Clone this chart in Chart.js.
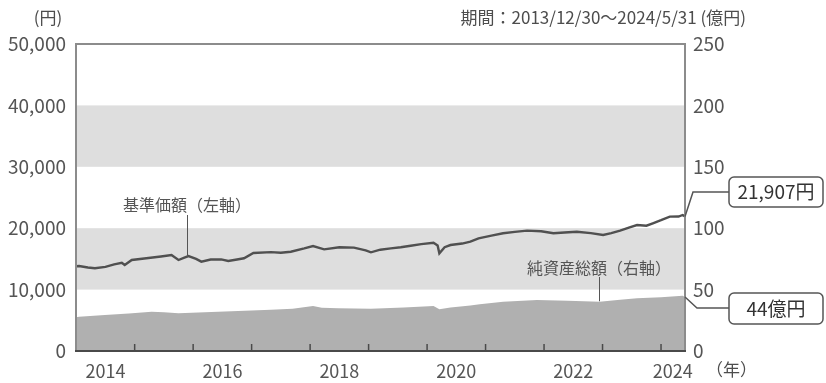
<!DOCTYPE html>
<html lang="ja">
<head>
<meta charset="utf-8">
<script src="https://cdn.jsdelivr.net/npm/chart.js@4.4.1/dist/chart.umd.min.js"></script>
<style>
  html, body { margin: 0; padding: 0; background: #fff; }
  #wrap { width: 826px; height: 383px; position: relative; }
</style>
</head>
<body>
<div id="wrap"><canvas id="fundChart"></canvas></div>
<script>
/* ==========================================
   基準価額 / 純資産総額 chart
========================================== */

const FONT = "'Noto Sans CJK JP', 'Noto Sans', sans-serif";

// 基準価額 (左軸, 円) — decimal year / value
const navYears = [
  2013.997, 2014.05, 2014.2, 2014.32, 2014.5, 2014.65, 2014.78, 2014.83, 2014.95, 2015.2,
  2015.45, 2015.63, 2015.75, 2015.85, 2015.92, 2016.05, 2016.14, 2016.3, 2016.48, 2016.6,
  2016.75, 2016.87, 2017.03, 2017.33, 2017.5, 2017.67, 2017.9, 2018.05, 2018.24, 2018.5,
  2018.75, 2018.95, 2019.04, 2019.2, 2019.38, 2019.55, 2019.72, 2019.9, 2020.11, 2020.18,
  2020.21, 2020.3, 2020.4, 2020.6, 2020.74, 2020.88, 2021.1, 2021.3, 2021.5, 2021.71,
  2021.95, 2022.16, 2022.35, 2022.56, 2022.8, 2023.01, 2023.15, 2023.3, 2023.45, 2023.59,
  2023.75, 2023.86, 2024.0, 2024.15, 2024.3, 2024.37, 2024.41
];
const navValues = [
  13800, 13840, 13600, 13470, 13700, 14100, 14380, 14000, 14820, 15100,
  15400, 15630, 14820, 15200, 15470, 15000, 14550, 14900, 14930, 14660,
  14900, 15100, 15960, 16100, 16000, 16170, 16700, 17100, 16560, 16900,
  16830, 16400, 16070, 16500, 16720, 16900, 17150, 17400, 17640, 17200,
  15910, 16900, 17260, 17500, 17800, 18350, 18800, 19170, 19400, 19600,
  19500, 19170, 19300, 19430, 19200, 18890, 19200, 19600, 20100, 20520,
  20400, 20800, 21300, 21880, 21900, 22150, 21907
];

// 純資産総額 (右軸, 億円)
const assetYears = [
  2013.997, 2014.05, 2014.49, 2014.9, 2015.29, 2015.5, 2015.75, 2016.2, 2016.77, 2017.33,
  2017.7, 2018.05, 2018.2, 2018.48, 2019.04, 2019.6, 2020.11, 2020.21, 2020.4, 2020.74,
  2020.9, 2021.3, 2021.88, 2022.4, 2022.95, 2023.3, 2023.59, 2024.0, 2024.37, 2024.41
];
const assetValues = [
  27.5, 27.9, 29.3, 30.5, 32.0, 31.5, 30.7, 31.5, 32.6, 33.6,
  34.5, 36.6, 35.3, 34.8, 34.5, 35.5, 36.6, 34.0, 35.5, 37.0,
  38.0, 40.2, 41.5, 41.0, 40.2, 41.8, 42.9, 43.8, 45.0, 44.0
];

const yearLabels = [2014, 2016, 2018, 2020, 2022, 2024];
const yearTicks = [2015, 2016, 2017, 2018, 2019, 2020, 2021, 2022, 2023, 2024];
const bandRanges = [[10000, 20000], [30000, 40000]];
const navEndLabel = "21,907円";
const assetEndLabel = "44億円";

const toPoints = (xs, ys) => xs.map((x, i) => ({ x, y: ys[i] }));

function roundRect(ctx, x, y, w, h, r) {
  ctx.beginPath();
  ctx.moveTo(x + r, y);
  ctx.arcTo(x + w, y, x + w, y + h, r);
  ctx.arcTo(x + w, y + h, x, y + h, r);
  ctx.arcTo(x, y + h, x, y, r);
  ctx.arcTo(x, y, x + w, y, r);
  ctx.closePath();
}

const decorPlugin = {
  id: "decor",
  beforeDatasetsDraw(chart) {
    const { ctx, chartArea: a, scales } = chart;
    ctx.save();
    ctx.fillStyle = "#dedede";
    bandRanges.forEach(([lo, hi]) => {
      const y1 = scales.y.getPixelForValue(hi);
      const y2 = scales.y.getPixelForValue(lo);
      ctx.fillRect(a.left, y1, a.right - a.left, y2 - y1);
    });
    ctx.restore();
  },
  afterDraw(chart) {
    const { ctx, chartArea: a, scales } = chart;
    ctx.save();

    // frame
    ctx.strokeStyle = "#8c8c8c";
    ctx.lineWidth = 2;
    ctx.beginPath();
    ctx.moveTo(a.left, a.bottom);
    ctx.lineTo(a.left, a.top);
    ctx.lineTo(a.right, a.top);
    ctx.lineTo(a.right, a.bottom);
    ctx.stroke();
    ctx.strokeStyle = "#4a4a4a";
    ctx.beginPath();
    ctx.moveTo(a.left - 1, a.bottom);
    ctx.lineTo(a.right + 1, a.bottom);
    ctx.stroke();

    // inward year ticks
    ctx.lineWidth = 1.5;
    yearTicks.forEach((yr) => {
      const x = scales.x.getPixelForValue(yr);
      ctx.beginPath();
      ctx.moveTo(x, a.bottom);
      ctx.lineTo(x, a.bottom - 7);
      ctx.stroke();
    });

    // header texts
    ctx.fillStyle = "#4d4d4d";
    ctx.textBaseline = "middle";
    ctx.font = `17px ${FONT}`;
    ctx.textAlign = "center";
    ctx.fillText("(円)", 48, 18);
    ctx.textAlign = "right";
    ctx.fillText("期間：2013/12/30～2024/5/31 (億円)", 746, 18);
    ctx.textAlign = "left";
    ctx.fillText("（年）", 706, 370);

    // series labels with pointers
    ctx.font = `16px ${FONT}`;
    ctx.textAlign = "center";
    ctx.fillStyle = "#555";
    ctx.fillText("基準価額（左軸）", 187, 205);
    ctx.fillText("純資産総額（右軸）", 599, 268);
    ctx.strokeStyle = "#555";
    ctx.lineWidth = 1;
    ctx.beginPath();
    ctx.moveTo(187.5, 215);
    ctx.lineTo(187.5, scales.y.getPixelForValue(15300));
    ctx.moveTo(599.5, 277);
    ctx.lineTo(599.5, scales.y2.getPixelForValue(40.5));
    ctx.stroke();

    // end value call-outs
    const navX = scales.x.getPixelForValue(navYears[navYears.length - 1]);
    const navY = scales.y.getPixelForValue(navValues[navValues.length - 1]);
    const astX = scales.x.getPixelForValue(assetYears[assetYears.length - 1]);
    const astY = scales.y2.getPixelForValue(assetValues[assetValues.length - 1]);
    ctx.strokeStyle = "#555";
    ctx.lineWidth = 1.5;
    ctx.beginPath();
    ctx.moveTo(navX, navY);
    ctx.lineTo(navX + 8, 192);
    ctx.lineTo(729, 192);
    ctx.moveTo(astX, astY);
    ctx.lineTo(astX + 12, 308);
    ctx.lineTo(729, 308);
    ctx.stroke();

    ctx.fillStyle = "#fff";
    roundRect(ctx, 729, 177, 94, 30, 5);
    ctx.fill();
    ctx.stroke();
    roundRect(ctx, 729, 293, 94, 31, 5);
    ctx.fill();
    ctx.stroke();

    ctx.fillStyle = "#333";
    ctx.font = `19px ${FONT}`;
    ctx.textAlign = "center";
    ctx.fillText(navEndLabel, 776, 192);
    ctx.fillText(assetEndLabel, 776, 309);

    ctx.restore();
  },
};

new Chart(document.getElementById("fundChart"), {
  type: "line",
  data: {
    datasets: [
      {
        label: "基準価額",
        data: toPoints(navYears, navValues),
        yAxisID: "y",
        borderColor: "#505050",
        borderWidth: 2.4,
        pointRadius: 0,
        tension: 0,
        fill: false,
        order: 1,
      },
      {
        label: "純資産総額",
        data: toPoints(assetYears, assetValues),
        yAxisID: "y2",
        borderWidth: 0,
        borderColor: "rgba(0,0,0,0)",
        backgroundColor: "#b0b0b0",
        pointRadius: 0,
        tension: 0,
        fill: "origin",
        order: 2,
      },
    ],
  },
  options: {
    responsive: true,
    maintainAspectRatio: false,
    animation: false,
    layout: { padding: { top: 44, left: 0, right: 0, bottom: 0 } },
    plugins: { legend: { display: false }, tooltip: { enabled: false } },
    scales: {
      x: {
        type: "linear",
        min: 2013.997,
        max: 2024.41,
        grid: { display: false, drawTicks: false },
        border: { display: false },
        afterBuildTicks: (s) => {
          s.ticks = yearLabels.map((yr) => ({ value: Math.min(yr + 0.5, s.max - 0.21) }));
        },
        afterFit: (s) => { s.height = 32; },
        ticks: {
          autoSkip: false,
          maxRotation: 0,
          padding: 9,
          color: "#555",
          font: { family: FONT, size: 18 },
          callback: (v) => String(Math.floor(v)),
        },
      },
      y: {
        position: "left",
        min: 0,
        max: 50000,
        grid: { display: false, drawTicks: false },
        border: { display: false },
        afterFit: (s) => { s.width = 76; },
        ticks: {
          stepSize: 10000,
          padding: 10,
          color: "#555",
          font: { family: FONT, size: 19 },
          callback: (v) => v.toLocaleString("en-US"),
        },
      },
      y2: {
        position: "right",
        min: 0,
        max: 250,
        grid: { display: false, drawTicks: false },
        border: { display: false },
        afterFit: (s) => { s.width = 141; },
        ticks: {
          stepSize: 50,
          padding: 8,
          color: "#555",
          font: { family: FONT, size: 19 },
        },
      },
    },
  },
  plugins: [decorPlugin],
});
</script>
</body>
</html>
